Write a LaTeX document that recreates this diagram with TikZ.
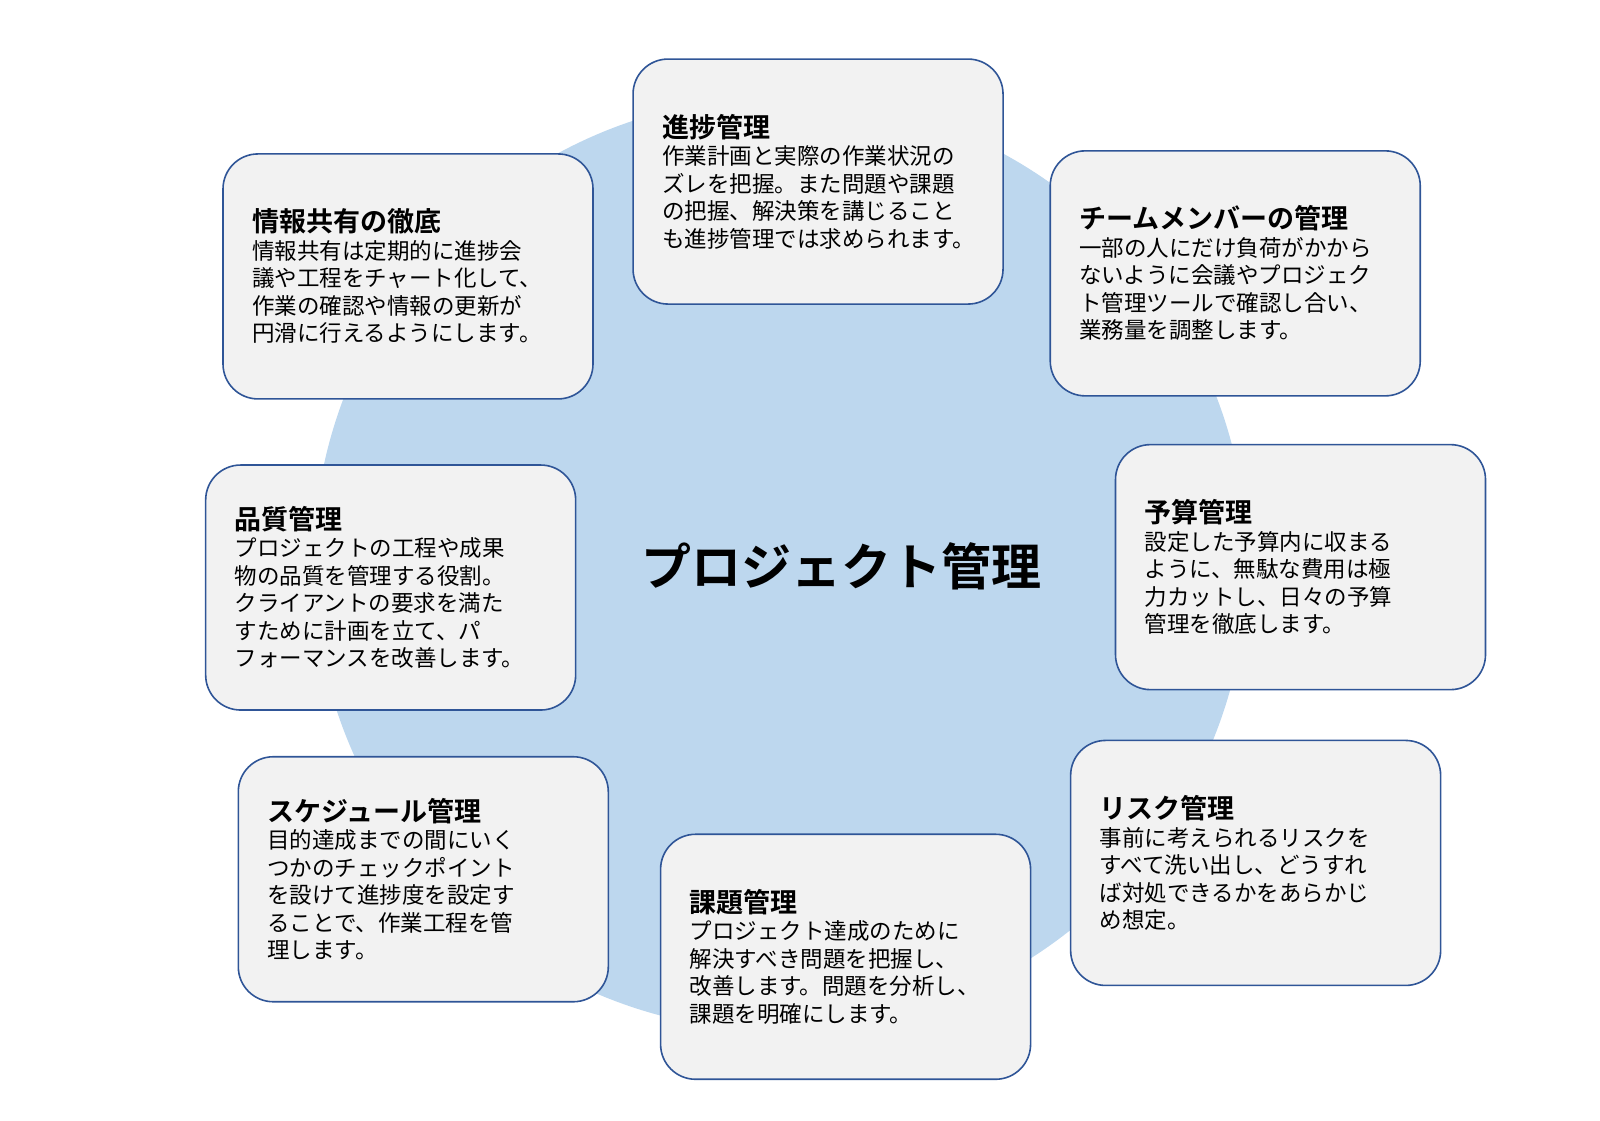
\documentclass[tikz,border=0pt]{standalone}
\usepackage{fontspec}
\setmainfont{Noto Sans CJK JP}[BoldFont={Noto Sans CJK JP Bold}]
\definecolor{circleblue}{HTML}{BDD7EE}
\definecolor{boxgray}{HTML}{F2F2F2}
\definecolor{boxline}{HTML}{2F5597}
\tikzset{
  taskbox/.style={draw=boxline, line width=1.6pt, fill=boxgray, rounded corners=35pt,
    minimum width=370pt, minimum height=245pt, text width=312pt, align=left,
    font=\fontsize{22.5}{27.5}\selectfont}
}
\begin{document}
\begin{tikzpicture}[x=1.02pt,y=-1.02pt]
  \useasboundingbox (0pt,0pt) rectangle (1600pt,-1120pt);
  \fill[circleblue] (765,553) circle (467pt);
  \node[font=\bfseries\fontsize{50}{58}\selectfont] (center) at (825,555) {プロジェクト管理};
  % boxes around the circle
  \foreach \i/\bx/\by/\ttl/\body in {
      1/802/178/{進捗管理}/{作業計画と実際の作業状況の\\ズレを把握。また問題や課題\\の把握、解決策を講じること\\も進捗管理では求められます。},
      2/1211/268/{チームメンバーの管理}/{一部の人にだけ負荷がかから\\ないように会議やプロジェク\\ト管理ツールで確認し合い、\\業務量を調整します。},
      3/1275/556/{予算管理}/{設定した予算内に収まる\\ように、無駄な費用は極\\力カットし、日々の予算\\管理を徹底します。},
      4/1231/846/{リスク管理}/{事前に考えられるリスクを\\すべて洗い出し、どうすれ\\ば対処できるかをあらかじ\\め想定。},
      5/829/938/{課題管理}/{プロジェクト達成のために\\解決すべき問題を把握し、\\改善します。問題を分析し、\\課題を明確にします。},
      6/415/862/{スケジュール管理}/{目的達成までの間にいく\\つかのチェックポイント\\を設けて進捗度を設定す\\ることで、作業工程を管\\理します。},
      7/383/576/{品質管理}/{プロジェクトの工程や成果\\物の品質を管理する役割。\\クライアントの要求を満た\\すために計画を立て、パ\\フォーマンスを改善します。},
      8/400/271/{情報共有の徹底}/{情報共有は定期的に進捗会\\議や工程をチャート化して、\\作業の確認や情報の更新が\\円滑に行えるようにします。}
    } {
      \node[taskbox] (task\i) at (\bx,\by) {{\bfseries\fontsize{27}{33}\selectfont \ttl}\\\body};
    }
\end{tikzpicture}
\end{document}
